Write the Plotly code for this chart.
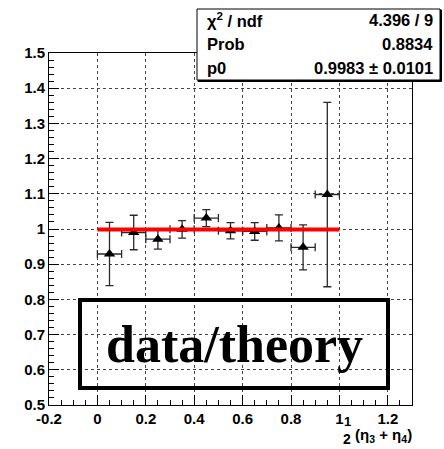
import plotly.graph_objects as go

# ---- data ----
x_vals = [0.05, 0.15, 0.25, 0.35, 0.45, 0.55, 0.65, 0.75, 0.85, 0.95]
y_vals = [0.929, 0.990, 0.971, 0.999, 1.031, 0.995, 0.993, 1.003, 0.948, 1.098]
y_err = [0.090, 0.049, 0.028, 0.025, 0.024, 0.023, 0.025, 0.037, 0.064, 0.262]
x_err = [0.05] * 10
fit_x = [0.0, 1.0]
fit_p0 = 0.9983
fit_y = [fit_p0, fit_p0]

x_tickvals = [-0.2, 0, 0.2, 0.4, 0.6, 0.8, 1.0, 1.2]
x_ticktext = ["-0.2", "0", "0.2", "0.4", "0.6", "0.8", "1", "1.2"]
y_tickvals = [0.5, 0.6, 0.7, 0.8, 0.9, 1.0, 1.1, 1.2, 1.3, 1.4, 1.5]
y_ticktext = ["0.5", "0.6", "0.7", "0.8", "0.9", "1", "1.1", "1.2", "1.3", "1.4", "1.5"]

stats_labels = ["χ<sup>2</sup> / ndf", "Prob", "p0"]
stats_values = ["4.396 / 9", "0.8834", "0.9983 ± 0.0101"]
box_text = "data/theory"

# ---- layout geometry (pixels) ----
W, H = 444, 449
L, R, T, B = 49, 412, 53, 405
PW, PH = R - L, B - T


def px(xp):
    return (xp - L) / PW


def py(yp):
    return (B - yp) / PH


def bold(s):
    return "<b>" + s + "</b>"


SANS = "Liberation Sans"
SERIF = "Liberation Serif"

fig = go.Figure()
fig.add_trace(go.Scatter(
    x=x_vals, y=y_vals, mode="markers",
    marker=dict(symbol="triangle-up", size=10, color="black"),
    error_y=dict(type="data", array=y_err, color="#2a2a2a", thickness=1.3, width=4),
    error_x=dict(type="data", array=x_err, color="#2a2a2a", thickness=1.3, width=4),
    showlegend=False,
))
fig.add_trace(go.Scatter(
    x=fit_x, y=fit_y, mode="lines",
    line=dict(color="#ff0000", width=4), showlegend=False,
))

axis_common = dict(
    showline=True, linecolor="black", linewidth=1, mirror=True,
    ticks="inside", tickcolor="black", ticklen=10, tickwidth=1,
    showgrid=True, gridcolor="#444444", griddash="dot", gridwidth=1,
    zeroline=False,
    tickfont=dict(family=SANS, size=15, color="black"),
)

fig.update_xaxes(range=[-0.2, 1.3], tickmode="array", tickvals=x_tickvals,
                 ticktext=[bold(t) for t in x_ticktext],
                 minor=dict(dtick=0.05, tick0=0, ticks="inside", ticklen=5,
                            tickcolor="black", showgrid=False),
                 **axis_common)
fig.update_yaxes(range=[0.5, 1.5], tickmode="array", tickvals=y_tickvals,
                 ticktext=[bold(t) for t in y_ticktext],
                 minor=dict(dtick=0.02, tick0=0.5, ticks="inside", ticklen=5,
                            tickcolor="black", showgrid=False),
                 **axis_common)

shapes = []
# data/theory box
shapes.append(dict(type="rect", xref="paper", yref="paper",
                   x0=px(80), x1=px(388), y0=py(388), y1=py(300),
                   line=dict(color="black", width=4), fillcolor="rgba(0,0,0,0)",
                   layer="above"))
# stats box shadow + box
shapes.append(dict(type="rect", xref="paper", yref="paper",
                   x0=px(198), x1=px(441.5), y0=py(81.5), y1=py(10),
                   line=dict(color="black", width=1), fillcolor="black",
                   layer="above"))
shapes.append(dict(type="rect", xref="paper", yref="paper",
                   x0=px(197), x1=px(440), y0=py(80), y1=py(9),
                   line=dict(color="black", width=1), fillcolor="white",
                   layer="above"))

annotations = []
row_y = [20, 44, 68]
for lab, val, yy in zip(stats_labels, stats_values, row_y):
    annotations.append(dict(xref="paper", yref="paper", x=px(205), y=py(yy),
                            text=bold(lab), showarrow=False, xanchor="left", yanchor="middle",
                            font=dict(family=SANS, size=16.5, color="black")))
    annotations.append(dict(xref="paper", yref="paper", x=px(435), y=py(yy),
                            text=bold(val), showarrow=False, xanchor="right", yanchor="middle",
                            font=dict(family=SANS, size=16.5, color="black")))

annotations.append(dict(xref="paper", yref="paper", x=px(234), y=py(344),
                        text=bold(box_text), showarrow=False, xanchor="center", yanchor="middle",
                        font=dict(family=SERIF, size=52, color="black")))

# x-axis title: 1/2 (eta3 + eta4)
annotations.append(dict(xref="paper", yref="paper", x=px(347), y=py(421),
                        text=bold("1"), showarrow=False, xanchor="center", yanchor="middle",
                        font=dict(family=SANS, size=13, color="black")))
annotations.append(dict(xref="paper", yref="paper", x=px(347), y=py(439),
                        text=bold("2"), showarrow=False, xanchor="center", yanchor="middle",
                        font=dict(family=SANS, size=14, color="black")))
annotations.append(dict(xref="paper", yref="paper", x=px(353), y=py(435),
                        text=bold("(η<sub>3</sub> + η<sub>4</sub>)"), showarrow=False,
                        xanchor="left", yanchor="middle",
                        font=dict(family=SANS, size=15, color="black")))

fig.update_layout(
    width=W, height=H,
    margin=dict(l=L, r=W - R, t=T, b=H - B, pad=0),
    paper_bgcolor="white", plot_bgcolor="white",
    shapes=shapes, annotations=annotations,
    showlegend=False,
)

fig.write_html("out.html")
